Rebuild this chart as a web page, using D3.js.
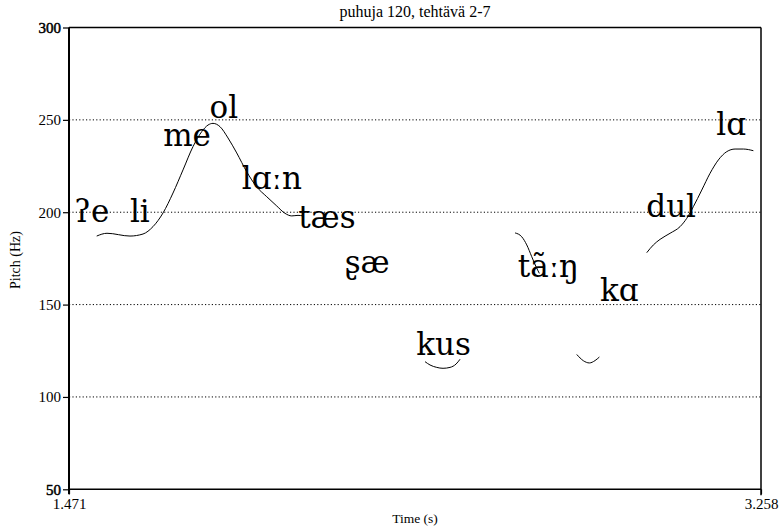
<!DOCTYPE html>
<html><head><meta charset="utf-8">
<script src="https://cdn.jsdelivr.net/npm/d3@7"></script>
<style>body{margin:0;background:#fff}svg{display:block}text{font-family:"Liberation Serif","DejaVu Serif",serif;fill:#000}</style>
</head><body><svg id="c" width="780" height="530"></svg>
<script>
const title = "puhuja 120, tehtävä 2-7";
const xDomain = [1.471, 3.258];
const yDomain = [50, 300];
const yTicks = [50, 100, 150, 200, 250, 300];
const yGrid = [100, 150, 200, 250];

// pitch contour segments: [time (s), pitch (Hz)]
const seg1 = [[1.5425,187.1],[1.5691,188.6],[1.6285,187.1],[1.6621,188.2],[1.6879,192.2],[1.7138,199.6],[1.7396,210.4],[1.7654,222.9],[1.7912,235.5],[1.8137,243.6],[1.8300,247.2],[1.8429,248.1],[1.8610,246.3],[1.8816,240.2],[1.9041,232.1],[1.9299,221.9],[1.9558,213.7],[1.9816,208.4],[2.0074,203.4],[2.0288,199.4],[2.0462,198.0],[2.0624,198.3],[2.0753,198.0]];
const seg2 = [[2.3904,119.1],[2.4033,117.3],[2.4206,116.0],[2.4369,115.5],[2.4550,116.0],[2.4705,117.8],[2.4808,120.4]];
const seg3 = [[2.6229,188.8],[2.6402,186.7],[2.6531,182.3],[2.6660,175.9],[2.6771,170.5],[2.6856,166.9]];
const seg4 = [[2.7822,123.0],[2.7993,119.6],[2.8148,118.4],[2.8295,119.7],[2.8406,121.6]];
const seg5 = [[2.9630,178.1],[2.9801,182.3],[2.9973,185.3],[3.0232,188.6],[3.0490,192.2],[3.0663,196.7],[3.0833,203.0],[3.1050,212.0],[3.1265,221.1],[3.1479,228.3],[3.1696,232.8],[3.1910,234.2],[3.2125,234.2],[3.2383,233.3]];
const segments = [seg1, seg2, seg3, seg4, seg5];

// syllable labels
const sylText  = ["ʔe","li","me","ol","lɑːn","tæs","ʂæ","kus","tãːŋ","kɑ","dul","lɑ"];
const sylTime  = [1.530,1.654,1.776,1.871,1.995,2.137,2.241,2.438,2.709,2.892,3.026,3.181];
const sylPitch = [194.7,194.7,235.8,251.2,212.6,191.5,167.1,122.7,165.1,152.1,197.6,241.8];

const svg = d3.select("#c");
const L = 69, R = 761, T = 27.5, B = 489.3;
const x = d3.scaleLinear().domain(xDomain).range([L, R]);
const y = d3.scaleLinear().domain(yDomain).range([B, T]);

// grid
svg.append("g").selectAll("line").data(yGrid).join("line")
  .attr("x1", L).attr("x2", R).attr("y1", d => y(d)).attr("y2", d => y(d))
  .attr("stroke", "#000").attr("stroke-width", 1).attr("stroke-dasharray", "1.2,2.2");

// frame
svg.append("line").attr("x1", L).attr("x2", R).attr("y1", T).attr("y2", T).attr("stroke","#000").attr("stroke-width",1.5);
svg.append("line").attr("x1", L).attr("x2", R).attr("y1", B).attr("y2", B).attr("stroke","#000").attr("stroke-width",1.5);
svg.append("line").attr("x1", R).attr("x2", R).attr("y1", T).attr("y2", B+6).attr("stroke","#000").attr("stroke-width",1.5);

// y axis
const yAxis = d3.axisLeft(y).tickValues(yTicks).tickSize(6).tickPadding(2).tickFormat(d3.format("d"));
const ga = svg.append("g").attr("transform", `translate(${L},0)`).call(yAxis);
ga.select(".domain").attr("stroke-width", 2).attr("d", `M0,${T}V${B+5}`);
ga.selectAll(".tick line").attr("stroke-width", 1.2);
ga.selectAll(".tick text").style("font-size", "15px").attr("fill", "#000")
  .style("font-family", '"Liberation Serif","DejaVu Serif",serif')
  .attr("stroke", d => (d === 300 || d === 50) ? "#000" : "none").attr("stroke-width", 0.5);

// x axis end labels
const xAxis = d3.axisBottom(x).tickValues(xDomain).tickSize(5).tickPadding(4).tickFormat(d3.format(".3f"));
const gx = svg.append("g").attr("transform", `translate(0,${B})`).call(xAxis);
gx.select(".domain").remove();
gx.selectAll(".tick line").attr("stroke-width", 1.2);
gx.selectAll(".tick text").style("font-size", "15px").attr("fill", "#000")
  .style("font-family", '"Liberation Serif","DejaVu Serif",serif');

// axis titles
svg.append("text").attr("x", (L+R)/2).attr("y", 17).attr("text-anchor","middle").style("font-size","16px").text(title);
svg.append("text").attr("x", (L+R)/2).attr("y", 523).attr("text-anchor","middle").style("font-size","13.5px").text("Time (s)");
svg.append("text").attr("transform", `translate(20,260) rotate(-90)`).attr("text-anchor","middle").style("font-size","14px").text("Pitch (Hz)");

// contour
const line = d3.line().x(d => x(d[0])).y(d => y(d[1])).curve(d3.curveMonotoneX);
svg.append("g").selectAll("path").data(segments).join("path")
  .attr("d", line).attr("fill","none").attr("stroke","#000").attr("stroke-width",1);

// labels
svg.append("g").selectAll("text").data(sylText).join("text")
  .attr("x", (d,i) => x(sylTime[i])).attr("y", (d,i) => y(sylPitch[i]))
  .attr("text-anchor","middle")
  .style("font-family", '"DejaVu Serif",serif')
  .style("font-size","31px").text(d => d);
</script></body></html>
